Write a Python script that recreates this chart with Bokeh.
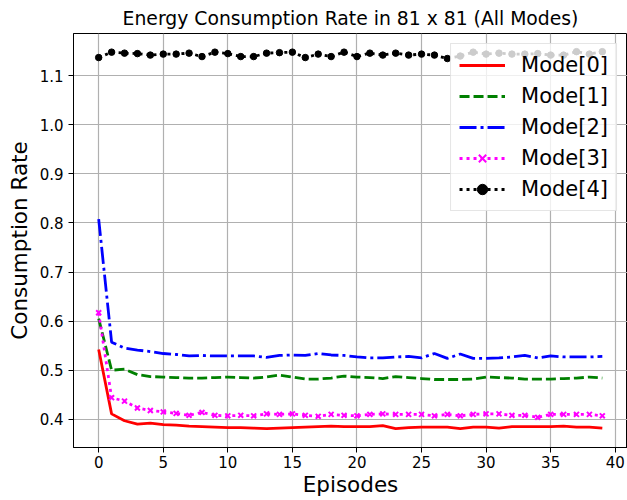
from bokeh.plotting import figure
from bokeh.models import Range1d, FixedTicker, PrintfTickFormatter, Legend, LegendItem
from bokeh.embed import file_html
from bokeh.resources import INLINE

episodes = list(range(40))
mode0 = [0.542, 0.411, 0.397, 0.390, 0.392, 0.389, 0.388, 0.386, 0.385, 0.384,
         0.383, 0.383, 0.382, 0.381, 0.382, 0.383, 0.384, 0.385, 0.386, 0.385,
         0.385, 0.385, 0.387, 0.381, 0.383, 0.384, 0.384, 0.384, 0.381, 0.384,
         0.384, 0.382, 0.385, 0.385, 0.385, 0.385, 0.386, 0.384, 0.384, 0.382]
mode1 = [0.605, 0.500, 0.502, 0.491, 0.487, 0.486, 0.485, 0.484, 0.484, 0.485,
         0.486, 0.485, 0.484, 0.486, 0.490, 0.486, 0.482, 0.482, 0.484, 0.488,
         0.486, 0.485, 0.483, 0.487, 0.485, 0.483, 0.481, 0.481, 0.481, 0.482,
         0.486, 0.485, 0.484, 0.482, 0.482, 0.482, 0.483, 0.484, 0.486, 0.484]
mode2 = [0.808, 0.557, 0.545, 0.541, 0.538, 0.534, 0.532, 0.529, 0.530, 0.529,
         0.529, 0.529, 0.529, 0.526, 0.530, 0.531, 0.530, 0.534, 0.531, 0.530,
         0.527, 0.525, 0.525, 0.527, 0.528, 0.525, 0.534, 0.524, 0.533, 0.524,
         0.524, 0.525, 0.527, 0.530, 0.525, 0.529, 0.527, 0.527, 0.527, 0.528]
mode3 = [0.617, 0.444, 0.437, 0.423, 0.418, 0.415, 0.412, 0.408, 0.414, 0.408,
         0.407, 0.408, 0.407, 0.411, 0.410, 0.411, 0.408, 0.406, 0.410, 0.408,
         0.407, 0.410, 0.411, 0.410, 0.410, 0.410, 0.407, 0.410, 0.407, 0.410,
         0.411, 0.411, 0.408, 0.408, 0.404, 0.410, 0.410, 0.410, 0.410, 0.407]
mode4 = [1.137, 1.148, 1.146, 1.145, 1.142, 1.144, 1.144, 1.146, 1.139, 1.148,
         1.145, 1.139, 1.139, 1.146, 1.147, 1.148, 1.137, 1.144, 1.139, 1.148,
         1.139, 1.146, 1.142, 1.146, 1.142, 1.144, 1.142, 1.135, 1.140, 1.148,
         1.144, 1.146, 1.144, 1.144, 1.145, 1.142, 1.142, 1.149, 1.144, 1.149]
labels = ["Mode[0]", "Mode[1]", "Mode[2]", "Mode[3]", "Mode[4]"]
x_ticks = [0, 5, 10, 15, 20, 25, 30, 35, 40]
y_ticks = [0.4, 0.5, 0.6, 0.7, 0.8, 0.9, 1.0, 1.1]

FONT = "DejaVu Sans"

p = figure(width=627, height=500, output_backend="svg", toolbar_location=None,
           title="Energy Consumption Rate in 81 x 81 (All Modes)",
           x_range=Range1d(-1.95, 40.95), y_range=Range1d(0.3425, 1.186),
           min_border_left=73, min_border_right=0, min_border_top=33, min_border_bottom=53)

p.title.text_font = FONT
p.title.text_font_size = "18.8px"
p.title.text_font_style = "normal"
p.title.align = "center"
p.title.text_color = "black"

p.outline_line_color = "black"
p.outline_line_width = 1
p.outline_line_alpha = 1

for ax in (p.xaxis[0], p.yaxis[0]):
    ax.axis_label_text_font = FONT
    ax.axis_label_text_font_size = "21.5px"
    ax.axis_label_text_font_style = "normal"
    ax.axis_label_text_color = "black"
    ax.major_label_text_font = FONT
    ax.major_label_text_font_size = "15px"
    ax.major_label_text_color = "black"
    ax.major_tick_out = 5
    ax.major_tick_in = 0
    ax.minor_tick_out = 0
    ax.minor_tick_in = 0
    ax.axis_line_color = "black"
    ax.major_tick_line_color = "black"

p.xaxis.axis_label = "Episodes"
p.yaxis.axis_label = "Consumption Rate"
p.xaxis.ticker = FixedTicker(ticks=x_ticks)
p.yaxis.ticker = FixedTicker(ticks=y_ticks)
p.yaxis.formatter = PrintfTickFormatter(format="%.1f")
p.xaxis.major_label_standoff = 3
p.xaxis.axis_label_standoff = 1
p.yaxis.major_label_standoff = 5
p.yaxis.axis_label_standoff = 5

p.xgrid.ticker = FixedTicker(ticks=x_ticks)
p.ygrid.ticker = FixedTicker(ticks=y_ticks)
for g in (p.xgrid[0], p.ygrid[0]):
    g.grid_line_color = "#b0b0b0"
    g.grid_line_width = 1.2

LW = 2.8
r0 = p.line(episodes, mode0, line_color="red", line_width=LW)
r1 = p.line(episodes, mode1, line_color="green", line_width=LW, line_dash="10 4")
r2 = p.line(episodes, mode2, line_color="blue", line_width=LW, line_dash="17 4 3 4")
r3 = p.line(episodes, mode3, line_color="magenta", line_width=LW, line_dash="3 4")
r3m = p.scatter(episodes, mode3, marker="x", size=7, line_color="magenta", line_width=2)
r4 = p.line(episodes, mode4, line_color="black", line_width=LW, line_dash="3 4")
r4m = p.scatter(episodes, mode4, marker="circle", size=6.5, fill_color="black", line_color="black")

legend = Legend(items=[
    LegendItem(label=labels[0], renderers=[r0]),
    LegendItem(label=labels[1], renderers=[r1]),
    LegendItem(label=labels[2], renderers=[r2]),
    LegendItem(label=labels[3], renderers=[r3, r3m]),
    LegendItem(label=labels[4], renderers=[r4, r4m]),
], location="top_right")
legend.label_text_font = FONT
legend.label_text_font_size = "21px"
legend.label_text_color = "black"
legend.glyph_width = 46
legend.glyph_height = 26
legend.label_height = 26
legend.label_standoff = 16
legend.spacing = 5
legend.padding = 8
legend.margin = 10
legend.border_line_color = "#cccccc"
legend.border_line_width = 1
legend.background_fill_color = "white"
legend.background_fill_alpha = 0.8
p.add_layout(legend)

open("out.html", "w").write(file_html(p, INLINE))
